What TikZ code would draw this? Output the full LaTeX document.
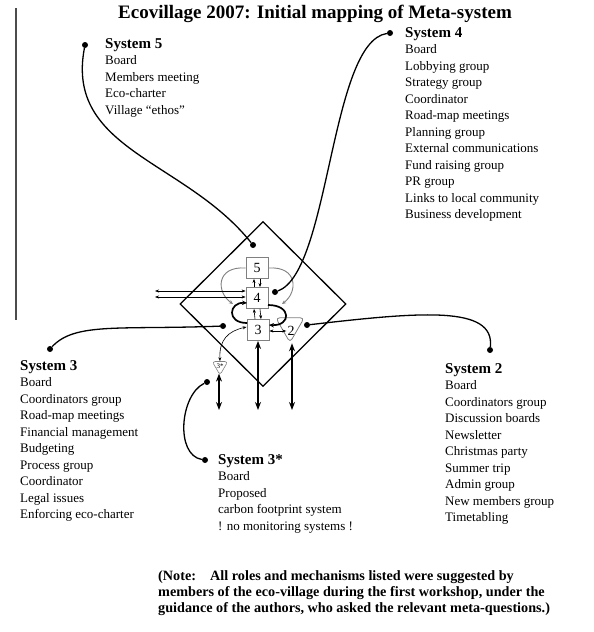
\documentclass[tikz,border=0pt]{standalone}
\usepackage{fontspec}
\setmainfont{Liberation Serif}
\usetikzlibrary{shapes.geometric,arrows.meta}
\begin{document}
\begin{tikzpicture}[x=1pt,y=-1pt,
  blk/.style={anchor=north west,inner sep=0pt,align=left,font=\fontsize{13}{16.5}\selectfont},
  dot/.style={circle,fill=black,inner sep=0pt,minimum size=6pt},
  sbox/.style={draw=gray,line width=0.8pt,minimum width=22pt,minimum height=21pt,inner sep=0pt,font=\fontsize{14}{14}\selectfont},
  conn/.style={line width=1.3pt},
  thin/.style={line width=0.6pt,-{Stealth[length=4pt,width=3pt]}},
  thinb/.style={line width=0.6pt,{Stealth[length=4pt,width=3pt]}-{Stealth[length=4pt,width=3pt]}},
  thickb/.style={line width=1.5pt,{Stealth[length=8pt,width=6pt]}-{Stealth[length=8pt,width=6pt]}},
]
\useasboundingbox (0,0) rectangle (594,632);
\fill[white] (0,0) rectangle (594,632);
% left rule
\draw[line width=1.2pt,black!70] (16,8) -- (16,320);
% title
\node (title) [font=\bfseries\fontsize{19}{21}\selectfont] at (315,14) {Ecovillage 2007: Initial mapping of Meta-system};
% text blocks
\node (t5) [blk] at (105,38) {\textbf{\fontsize{15}{16.5}\selectfont System 5}\\Board\\Members meeting\\Eco-charter\\Village ``ethos''};
\node (t4) [blk] at (405,27) {\textbf{\fontsize{15}{16.5}\selectfont System 4}\\Board\\Lobbying group\\Strategy group\\Coordinator\\Road-map meetings\\Planning group\\External communications\\Fund raising group\\PR group\\Links to local community\\Business development};
\node (t3) [blk] at (20,360) {\textbf{\fontsize{15}{16.5}\selectfont System 3}\\Board\\Coordinators group\\Road-map meetings\\Financial management\\Budgeting\\Process group\\Coordinator\\Legal issues\\Enforcing eco-charter};
\node (t3s) [blk] at (218,454) {\textbf{\fontsize{15}{16.5}\selectfont System 3*}\\Board\\Proposed\\carbon footprint system\\! no monitoring systems !};
\node (t2) [blk] at (445,363) {\textbf{\fontsize{15}{16.5}\selectfont System 2}\\Board\\Coordinators group\\Discussion boards\\Newsletter\\Christmas party\\Summer trip\\Admin group\\New members group\\Timetabling};
\node (note) [anchor=north west,inner sep=0pt,align=left,font=\bfseries\fontsize{14.2}{16}\selectfont] at (158,570) {(Note:\ \ \ \ All roles and mechanisms listed were suggested by\\members of the eco-village during the first workshop, under the\\guidance of the authors, who asked the relevant meta-questions.)};
% diamond
\node (dia) [draw,line width=1.3pt,diamond,minimum width=166pt,minimum height=165pt,inner sep=0pt] at (263,304) {};
% boxes
\node (b5) [sbox] at (257,268) {5};
\node (b4) [sbox] at (257,298) {4};
\node (b3) [sbox] at (258,330) {3};
\node (s2) [draw=gray,line width=0.8pt,regular polygon,regular polygon sides=3,shape border rotate=180,minimum size=33pt,inner sep=0pt,rounded corners=4pt] at (290,326) {};
\node (l2) at (291,331) [inner sep=0pt,font=\fontsize{14}{14}\selectfont] {2};
\node (s3s) [draw=gray,line width=0.6pt,regular polygon,regular polygon sides=3,shape border rotate=180,minimum size=18pt,inner sep=0pt,rounded corners=3pt] at (220,366) {};
\node (l3s) at (220,366) [inner sep=0pt,font=\fontsize{7}{7}\selectfont] {3*};
% vertical arrows between 5,4,3
\draw[thin] ([xshift=-3pt]b4.north) -- ([xshift=-3pt]b5.south);
\draw[thin] ([xshift=3pt]b5.south) -- ([xshift=3pt]b4.north);
\draw[thin] ([xshift=-3pt]b3.north) -- ([xshift=-3pt]b4.south);
\draw[thin] ([xshift=3pt]b4.south) -- ([xshift=3pt]b3.north);
% gray loops from 5
\coordinate (gl) at (233,304);
\coordinate (gr) at (282,304);
\draw[gray,line width=0.9pt,-{Stealth[length=4pt,width=3.5pt]}] (b5.west) .. controls (216,266) and (216,292) .. (gl);
\draw[gray,line width=0.9pt,-{Stealth[length=4pt,width=3.5pt]}] (b5.east) .. controls (298,266) and (298,292) .. (gr);
% thick curved arrows 3<->4
\coordinate (c3l) at (247,323);
\coordinate (c4l) at (247,303);
\coordinate (c4r) at (268,305);
\coordinate (c3r) at (269,325);
\draw[line width=1.7pt,-{Stealth[length=5pt,width=4.5pt]}] (c3l) .. controls (226,323) and (229,302) .. (c4l);
\draw[line width=1.7pt,-{Stealth[length=5pt,width=4.5pt]}] (c4r) .. controls (292,305) and (291,326) .. (c3r);
% horizontal arrows to 4
\coordinate (h1) at (155,291);
\coordinate (h2) at (155,297);
\draw[thinb] (h1) -- (h1 -| b4.west);
\draw[thinb] (h2) -- (h2 -| b4.west);
% 3 <-> 2
\draw[thinb] (b3.east |- l2) -- ([xshift=-1pt]l2.west);
% 3 <-> 3*
\draw[thinb] ([yshift=3pt]b3.west) .. controls (228,331) and (219,340) .. (s3s.north);
% thick vertical arrows
\coordinate (v3) at (258,410);
\coordinate (v2) at (292,410);
\coordinate (v3s) at (219,410);
\draw[thickb] (b3.south) -- (v3);
\draw[thickb] (s2.south -| v2) -- (v2);
\draw[thickb] ([yshift=2pt]s3s.south -| v3s) -- (v3s);
% connectors with dots
\node (d5a) [dot] at (85,45) {};
\node (d5b) [dot] at (253,245) {};
\draw[conn] (d5a) .. controls (65,150) and (185,160) .. (d5b);
\node (d4a) [dot] at (390,33) {};
\node (d4b) [dot] at (275,292) {};
\draw[conn] (d4a) .. controls (330,42) and (330,272) .. (d4b);
\node (d3a) [dot] at (223,326) {};
\node (d3b) [dot] at (50,349) {};
\draw[conn] (d3a) .. controls (120,330) and (75,322) .. (d3b);
\node (d2a) [dot] at (307,325) {};
\node (d2b) [dot] at (490,350) {};
\draw[conn] (d2a) .. controls (420,312) and (495,305) .. (d2b);
\node (d3sa) [dot] at (207,382) {};
\node (d3sb) [dot] at (205,460) {};
\draw[conn] (d3sa) .. controls (180,395) and (175,455) .. (d3sb);
\end{tikzpicture}
\end{document}
